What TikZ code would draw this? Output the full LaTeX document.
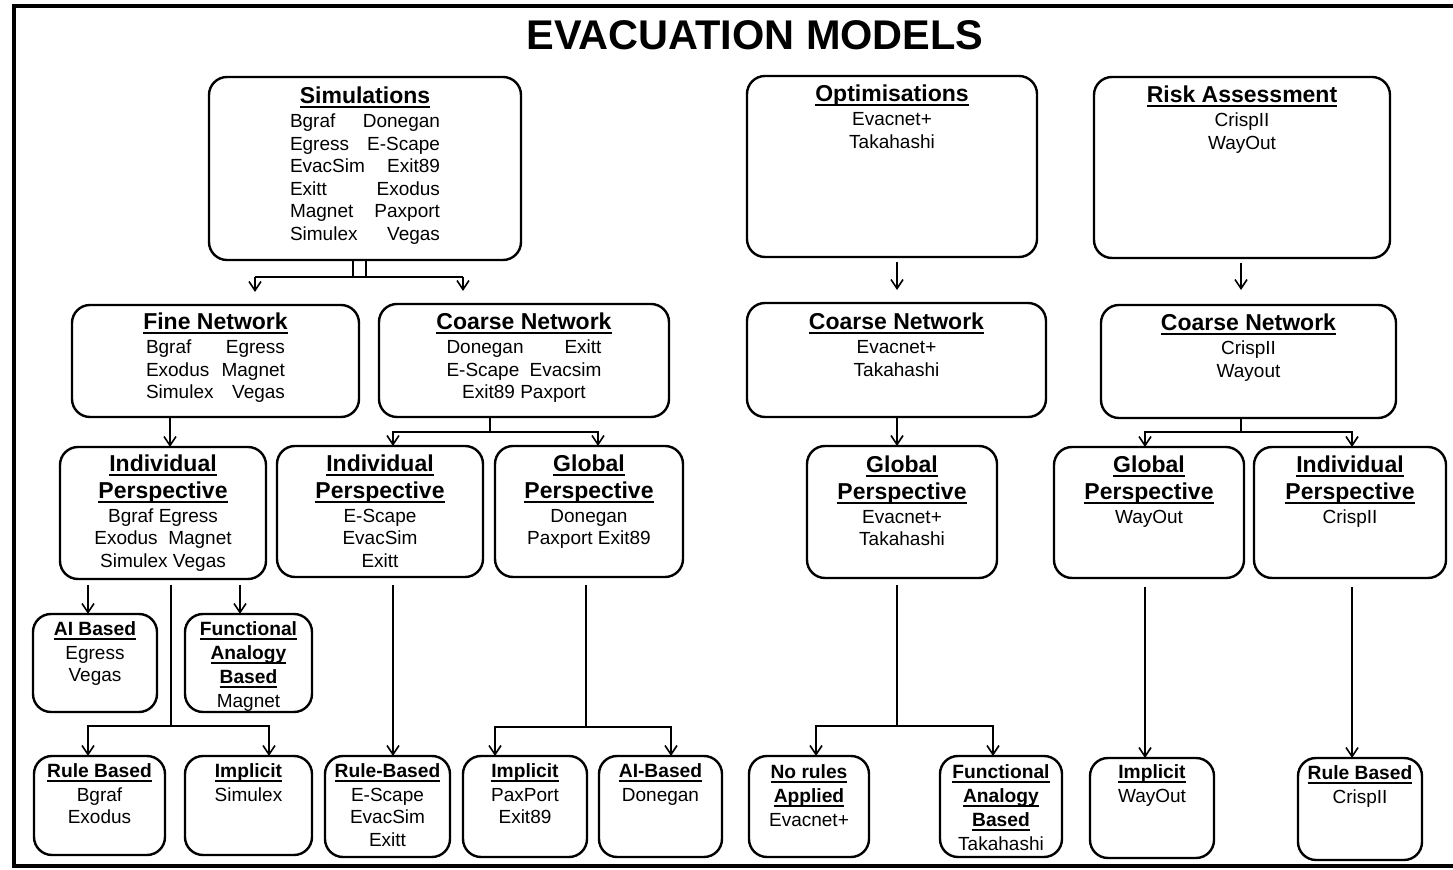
\documentclass[tikz,border=0pt]{standalone}
\usepackage{fontspec}
\setmainfont{Liberation Sans}
\usetikzlibrary{arrows.meta}
\newlength\px \setlength\px{0.5pt}
\newcommand\bodyf{\fontsize{9.5}{11}\selectfont}
\newcommand\bigf{\fontsize{11.5}{13}\selectfont\bfseries}
\newcommand\smallf{\fontsize{9.6}{11}\selectfont\bfseries}
\newcommand\ulb[1]{\setbox0\hbox{#1}\rlap{\vrule height -2.5\px depth 4.5\px width \wd0}\box0}
\newcommand\HB[1]{\vrule height 18\px depth 8.5\px width 0pt{\bigf\ulb{#1}}}
\newcommand\HS[1]{\vrule height 16\px depth 8\px width 0pt{\smallf\ulb{#1}}}
\newcommand\T[1]{\vrule height 15.5\px depth 7\px width 0pt #1}
\newcommand\TT[3]{\vrule height 15.5\px depth 7\px width 0pt\hbox to #1\px{#2\hfil #3}}
\newcommand\lines[1]{\vtop{\offinterlineskip\halign{\hfil##\hfil\cr#1\crcr}}}
\tikzset{
  box/.style={draw, line width=1.2pt, rounded corners=9pt, anchor=north,
    inner sep=0pt, outer sep=0pt, font=\bodyf},
  conn/.style={line width=0.8pt},
  arr/.style={-{Straight Barb[length=4.5pt,width=6pt]}}
}
\newcommand\bx[7]{%
  \pgfmathsetmacro\bxw{(#4-#2)*0.5}%
  \pgfmathsetmacro\bxth{#6*0.5}%
  \pgfmathsetmacro\bxtd{(#5-#3-#6)*0.5}%
  \node[box, minimum width=\bxw pt, text height=\bxth pt, text depth=\bxtd pt] (#1) at ({(#2+#4)/2},#3) {\lines{#7}};}
\begin{document}
\begin{tikzpicture}[x=0.5pt,y=-0.5pt]
\useasboundingbox (0,0) rectangle (1453,870);
% frame
\draw[line width=2pt] (1453,6) -- (14,6) -- (14,866) -- (1453,866);
% title
\node[font=\fontsize{20.75}{24}\selectfont\bfseries] (title) at (755,35) {EVACUATION MODELS};

% top level
\bx{sim}{209}{77}{521}{260}{27}{\HB{Simulations}\cr
  \TT{150}{Bgraf}{Donegan}\cr \TT{150}{Egress}{E-Scape}\cr
  \TT{150}{EvacSim}{Exit89}\cr \TT{150}{Exitt}{Exodus}\cr
  \TT{150}{Magnet}{Paxport}\cr \TT{150}{Simulex}{Vegas}}
\bx{opt}{747}{76}{1037}{257}{26}{\HB{Optimisations}\cr\T{Evacnet+}\cr\T{Takahashi}}
\bx{risk}{1094}{77}{1390}{258}{26}{\HB{Risk Assessment}\cr\T{CrispII}\cr\T{WayOut}}

% network level
\bx{fine}{72}{305}{359}{417}{25}{\HB{Fine Network}\cr
  \TT{139}{Bgraf}{Egress}\cr\TT{139}{Exodus}{Magnet}\cr\TT{139}{Simulex}{Vegas}}
\bx{coarse1}{379}{304}{669}{417}{26}{\HB{Coarse Network}\cr
  \TT{155}{Donegan}{Exitt}\cr\TT{155}{E-Scape}{Evacsim}\cr\T{Exit89 Paxport}}
\bx{coarse2}{747}{303}{1046}{417}{27}{\HB{Coarse Network}\cr\T{Evacnet+}\cr\T{Takahashi}}
\bx{coarse3}{1101}{305}{1396}{418}{26}{\HB{Coarse Network}\cr\T{CrispII}\cr\T{Wayout}}

% perspective level
\bx{indiv1}{60}{447}{266}{579}{25}{\HB{Individual}\cr\HB{Perspective}\cr
  \T{Bgraf Egress}\cr\T{Exodus\ \ Magnet}\cr\T{Simulex Vegas}}
\bx{indiv2}{277}{446}{483}{577}{26}{\HB{Individual}\cr\HB{Perspective}\cr
  \T{E-Scape}\cr\T{EvacSim}\cr\T{Exitt}}
\bx{global1}{495}{446}{683}{577}{26}{\HB{Global}\cr\HB{Perspective}\cr
  \T{Donegan}\cr\T{Paxport Exit89}}
\bx{global2}{807}{446}{997}{578}{27}{\HB{Global}\cr\HB{Perspective}\cr
  \T{Evacnet+}\cr\T{Takahashi}}
\bx{global3}{1054}{447}{1244}{578}{26}{\HB{Global}\cr\HB{Perspective}\cr\T{WayOut}}
\bx{indiv3}{1254}{447}{1446}{578}{26}{\HB{Individual}\cr\HB{Perspective}\cr\T{CrispII}}

% method level
\bx{ai1}{33}{614}{157}{712}{22}{\HS{AI Based}\cr\T{Egress}\cr\T{Vegas}}
\bx{func1}{185}{614}{312}{712}{22}{\HS{Functional}\cr\HS{Analogy}\cr\HS{Based}\cr\T{Magnet}}
\bx{rule1}{34}{756}{165}{855}{22}{\HS{Rule Based}\cr\T{Bgraf}\cr\T{Exodus}}
\bx{impl1}{185}{756}{312}{855}{22}{\HS{Implicit}\cr\T{Simulex}}
\bx{rule2}{325}{756}{450}{857}{22}{\HS{Rule-Based}\cr\T{E-Scape}\cr\T{EvacSim}\cr\T{Exitt}}
\bx{impl2}{463}{756}{587}{857}{22}{\HS{Implicit}\cr\T{PaxPort}\cr\T{Exit89}}
\bx{ai2}{599}{756}{722}{857}{22}{\HS{AI-Based}\cr\T{Donegan}}
\bx{norule}{749}{756}{869}{857}{23}{\HS{No rules}\cr\HS{Applied}\cr\T{Evacnet+}}
\bx{func2}{940}{756}{1062}{857}{23}{\HS{Functional}\cr\HS{Analogy}\cr\HS{Based}\cr\T{Takahashi}}
\bx{impl3}{1090}{758}{1214}{858}{21}{\HS{Implicit}\cr\T{WayOut}}
\bx{rule3}{1298}{758}{1422}{860}{22}{\HS{Rule Based}\cr\T{CrispII}}

% connectors: simulations
\coordinate (sj1) at (353,277);
\coordinate (sj2) at (366,277);
\coordinate (simL) at (255,277);
\coordinate (simR) at (463,277);
\draw[conn] (sim.south -| sj1) -- (sj1);
\draw[conn] (sim.south -| sj2) -- (sj2);
\draw[conn] (simL) -- (simR);
\draw[conn,arr] (simL) -- ([yshift=6.5pt]fine.north -| simL);
\draw[conn,arr] (simR) -- ([yshift=6.5pt]coarse1.north -| simR);

% fine -> individual
\coordinate (fx) at (170,0);
\draw[conn,arr] (fine.south -| fx) -- (indiv1.north -| fx);

% coarse1 -> individual, global
\coordinate (c1j) at (490,432);
\coordinate (c1a) at (393,432);
\coordinate (c1b) at (598,432);
\draw[conn] (coarse1.south -| c1j) -- (c1j);
\draw[conn,arr] (c1j) -- (c1a) -- (indiv2.north -| c1a);
\draw[conn,arr] (c1j) -- (c1b) -- (global1.north -| c1b);

% indiv1 -> methods
\coordinate (i1a) at (88,0);
\coordinate (i1b) at (240,0);
\coordinate (i1j) at (171,726);
\coordinate (i1l) at (88,726);
\coordinate (i1r) at (269,726);
\draw[conn,arr] ([yshift=-3pt]indiv1.south -| i1a) -- (ai1.north -| i1a);
\draw[conn,arr] ([yshift=-3pt]indiv1.south -| i1b) -- (func1.north -| i1b);
\draw[conn] ([yshift=-3pt]indiv1.south -| i1j) -- (i1j);
\draw[conn,arr] (i1j) -- (i1l) -- (rule1.north -| i1l);
\draw[conn,arr] (i1j) -- (i1r) -- (impl1.north -| i1r);

% indiv2 -> rule-based
\coordinate (x393) at (393,0);
\draw[conn,arr] ([yshift=-4pt]indiv2.south -| x393) -- (rule2.north -| x393);

% global1 -> implicit, AI-based
\coordinate (g1j) at (586,727);
\coordinate (g1l) at (495,727);
\coordinate (g1r) at (671,727);
\draw[conn] ([yshift=-4pt]global1.south -| g1j) -- (g1j);
\draw[conn,arr] (g1j) -- (g1l) -- (impl2.north -| g1l);
\draw[conn,arr] (g1j) -- (g1r) -- (ai2.north -| g1r);

% optimisations branch
\coordinate (x897) at (897,0);
\draw[conn,arr] ([yshift=-2.5pt]opt.south -| x897) -- ([yshift=6.5pt]coarse2.north -| x897);
\draw[conn,arr] (coarse2.south -| x897) -- (global2.north -| x897);
\coordinate (g2j) at (897,726);
\coordinate (g2l) at (816,726);
\coordinate (g2r) at (993,726);
\draw[conn] ([yshift=-3.5pt]global2.south -| g2j) -- (g2j);
\draw[conn,arr] (g2j) -- (g2l) -- (norule.north -| g2l);
\draw[conn,arr] (g2j) -- (g2r) -- (func2.north -| g2r);

% risk branch
\coordinate (x1241) at (1241,0);
\draw[conn,arr] ([yshift=-2.5pt]risk.south -| x1241) -- ([yshift=7.5pt]coarse3.north -| x1241);
\coordinate (c3j) at (1241,432);
\coordinate (c3l) at (1145,432);
\coordinate (c3r) at (1352,432);
\draw[conn] (coarse3.south -| c3j) -- (c3j);
\draw[conn,arr] (c3j) -- (c3l) -- (global3.north -| c3l);
\draw[conn,arr] (c3j) -- (c3r) -- (indiv3.north -| c3r);
\draw[conn,arr] ([yshift=-4.5pt]global3.south -| c3l) -- (impl3.north -| c3l);
\draw[conn,arr] ([yshift=-4.5pt]indiv3.south -| c3r) -- (rule3.north -| c3r);
\end{tikzpicture}
\end{document}
